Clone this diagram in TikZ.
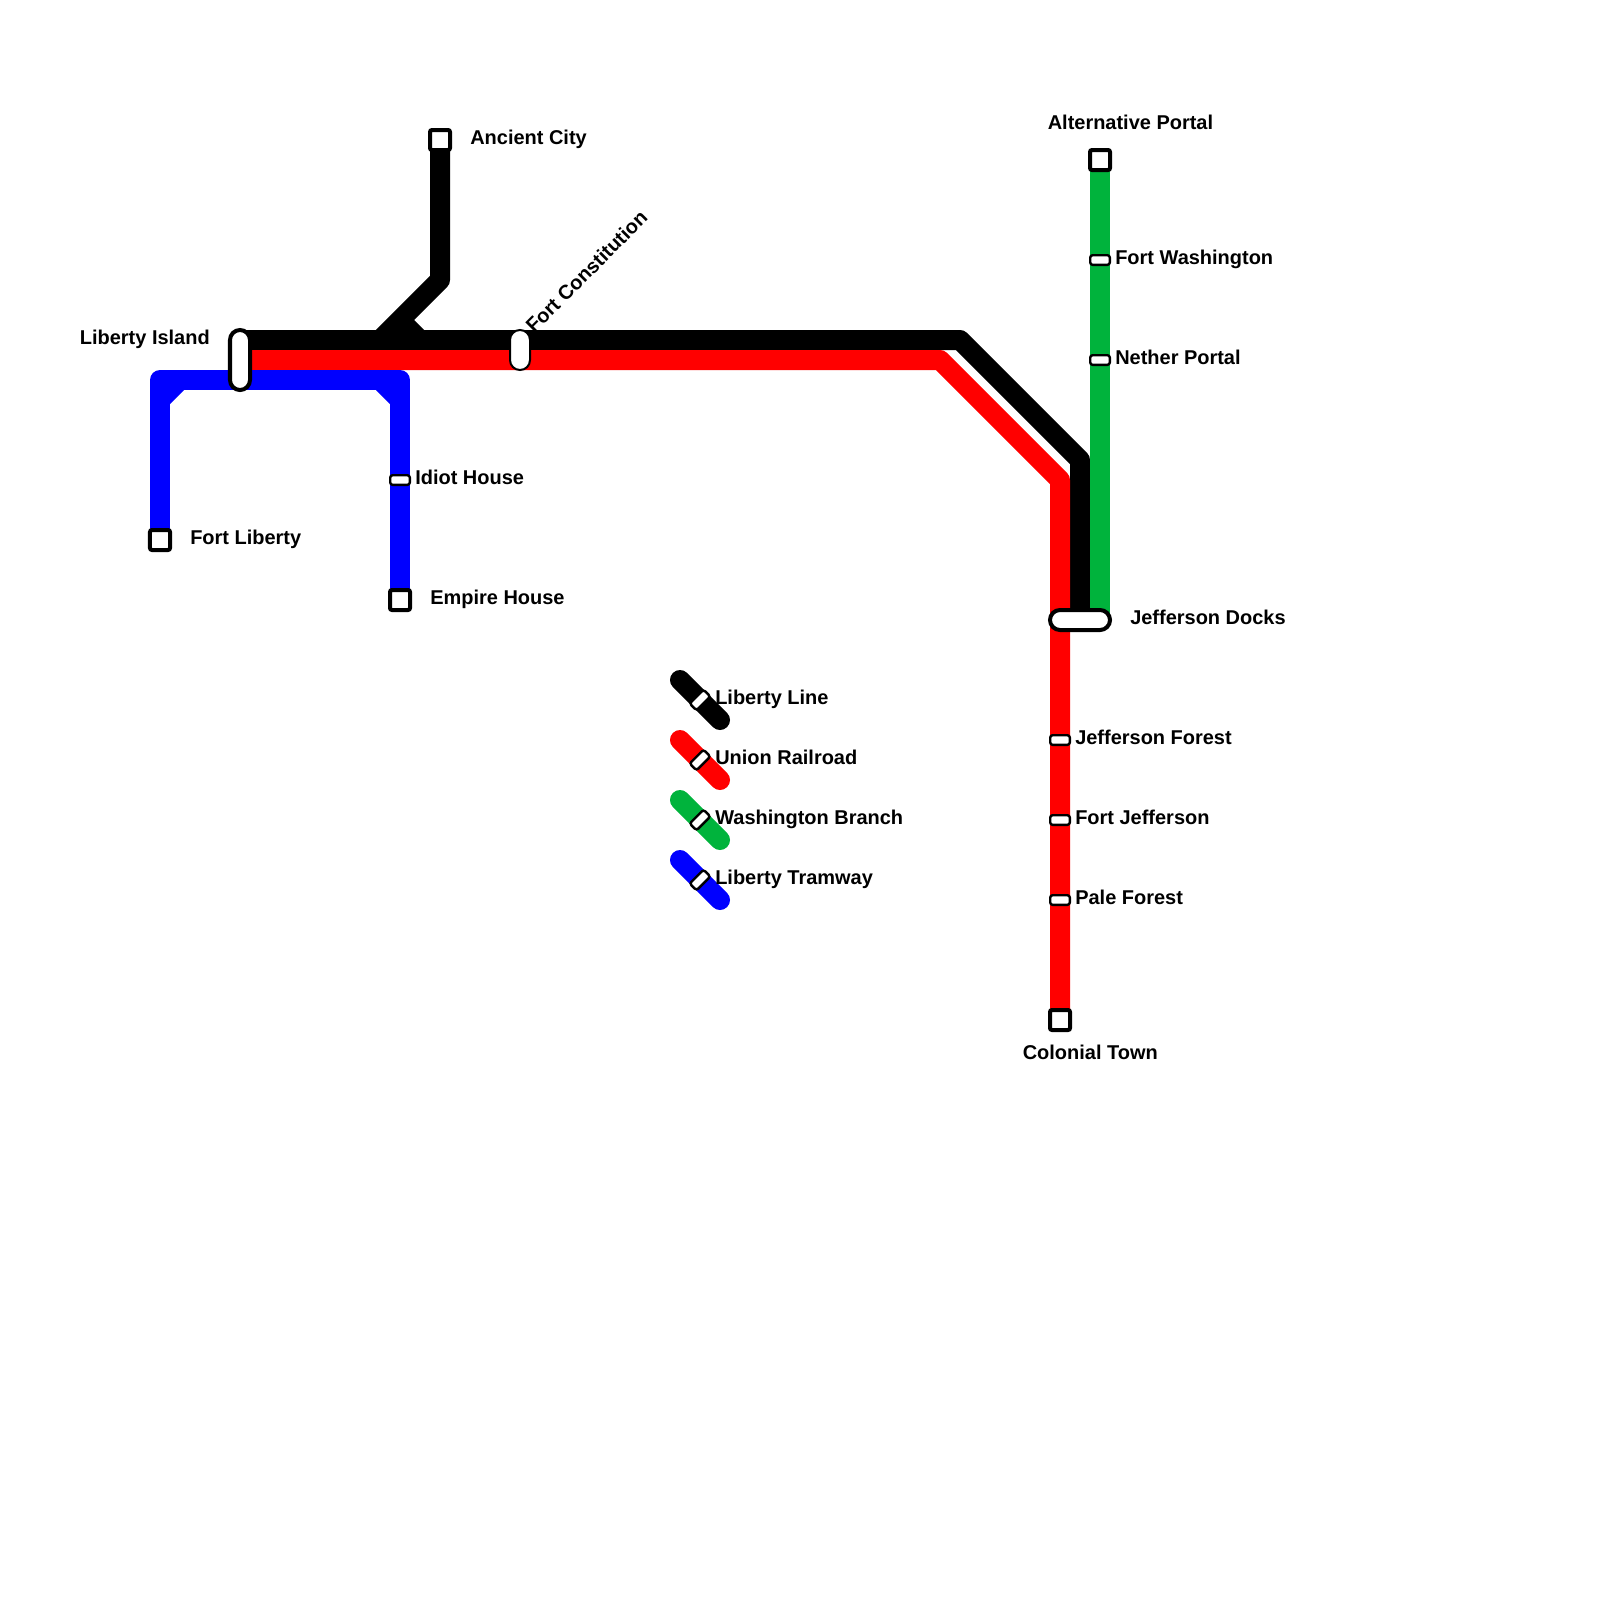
\documentclass[tikz,border=0pt]{standalone}
\usepackage{fontspec}
\setmainfont{Liberation Sans}
\usetikzlibrary{backgrounds}
\definecolor{washgreen}{HTML}{00B33C}
\tikzset{
  tick/.style={draw,fill=white,line width=.06cm,rounded corners=.06cm,minimum width=.49cm,minimum height=.24cm,inner sep=0pt},
  terminus/.style={draw,fill=white,line width=.1cm,rounded corners=.05cm,minimum size=.5cm,inner sep=0pt},
  hub/.style={draw,fill=white,line width=.1cm,rounded corners=.25cm,inner sep=0pt},
  lab/.style={inner sep=0pt,font=\bfseries\fontsize{14.2}{17}\selectfont},
  route/.style={line width=.5cm,line join=round},
}
\begin{document}
\begin{tikzpicture}[x=.025cm,y=-.025cm]
\useasboundingbox (0,0) rectangle (1600,1600);
% stations
\foreach \n/\x/\y in {ancient/440/140,altportal/1100/160,fortliberty/160/540,empire/400/600,colonial/1060/1020} {
  \node[terminus] (\n) at (\x,\y) {};
}
\foreach \n/\x/\y in {fortwash/1100/260,nether/1100/360,idiot/400/480,jefforest/1060/740,fortjeff/1060/820,pale/1060/900} {
  \node[tick] (\n) at (\x,\y) {};
}
\node[hub,minimum width=.5cm,minimum height=1.5cm] (libisland) at (240,360) {};
\node[hub,line width=.05cm,minimum width=.5cm,minimum height=1cm] (fortconst) at (520,350) {};
\node[hub,minimum width=1.5cm,minimum height=.5cm] (docks) at (1080,620) {};
% labels
\foreach \t/\x/\y in {Ancient City/470/144.5,Alternative Portal/1047.5/129.5,Fort Washington/1115/264.5,Nether Portal/1115/364.5,Idiot House/415/484.5,Fort Liberty/190/544.5,Empire House/430/604.5,Jefferson Docks/1130/624.5,Jefferson Forest/1075/744.5,Fort Jefferson/1075/824.5,Pale Forest/1075/904.5,Colonial Town/1022.5/1059.5} {
  \node[lab,anchor=base west] at (\x,\y) {\t};
}
\node[lab,anchor=base east] at (210,344.5) {Liberty Island};
\node[lab,anchor=base west,rotate=45] at (534,334) {Fort Constitution};
% bends
\coordinate (blackw) at (240,340);
\coordinate (blackj) at (380,340);
\coordinate (blacke) at (960,340);
\coordinate (blackd) at (1080,460);
\coordinate (redw) at (240,360);
\coordinate (rede) at (940,360);
\coordinate (redd) at (1060,480);
\coordinate (greend) at (1100,620);
% lines
\begin{scope}[on background layer]
\draw[route] (blackw) -- (blacke) -- (blackd) -- (docks.center);
\draw[route] (ancient.center) -- (440,280) -- (blackj);
\draw[route] (400,320) -- (420,340);
\draw[route,red] (redw) -- (rede) -- (redd) -- (colonial.center);
\draw[route,washgreen] (altportal.center) -- (greend);
\draw[route,blue] (fortliberty.center) -- (160,380) -- (400,380) -- (empire.center);
\fill[blue] (170,390) -- (184,390) -- (170,404) -- cycle;
\fill[blue] (390,390) -- (376,390) -- (390,404) -- cycle;
\end{scope}
% legend
\foreach \i/\c/\t in {0/black/Liberty Line,1/red/Union Railroad,2/washgreen/Washington Branch,3/blue/Liberty Tramway} {
  \node[tick,rotate=45] (leg\i) at (700,700+\i*60) {};
  \node[lab,anchor=base west] at (715,704.5+\i*60) {\t};
  \begin{scope}[on background layer]
  \draw[route,\c,line cap=round] (680,680+\i*60) -- (720,720+\i*60);
  \end{scope}
}
\end{tikzpicture}
\end{document}
